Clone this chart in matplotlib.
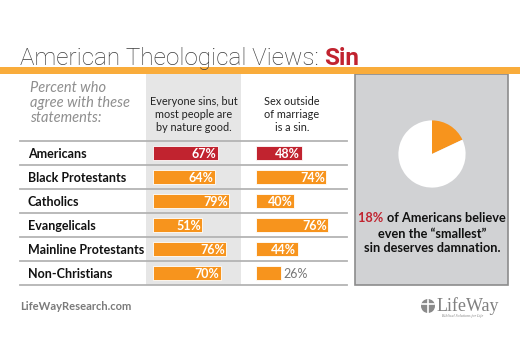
import matplotlib.pyplot as plt
from matplotlib.patches import Rectangle, Circle

# data
groups = ["Americans", "Black Protestants", "Catholics", "Evangelicals",
          "Mainline Protestants", "Non-Christians"]
good_by_nature = [67, 64, 79, 51, 76, 70]
sex_outside_marriage = [48, 74, 40, 76, 44, 26]
pie_share = [18, 82]
col_headers = ["Everyone sins, but\nmost people are\nby nature good.",
               "Sex outside\nof marriage\nis a sin."]

RED = "#C1232F"
ORANGE = "#F7941D"
TITLE_ORANGE = "#F9AC3B"
FONT = "Lato"

W, H = 520, 350
fig = plt.figure(figsize=(W / 100, H / 100), dpi=100)

# background axes in pixel coordinates
bg = fig.add_axes([0, 0, 1, 1])
bg.set_xlim(0, W)
bg.set_ylim(H, 0)
bg.axis("off")


def text_width(t):
    fig.canvas.draw()
    bb = t.get_window_extent().transformed(bg.transData.inverted())
    return bb.x1 - bb.x0


# table geometry (pixels)
top, bottom = 141, 285
row_h = (bottom - top) / len(groups)

bg.add_patch(Rectangle((146, 74), 95, bottom - 74, color="#E6E6E6", lw=0, zorder=0))
bg.add_patch(Rectangle((355, 74), 153, bottom - 74, facecolor="#D1D2D4",
                       edgecolor="#8C8C8C", lw=1.2, zorder=0))
bg.add_patch(Rectangle((0, 67), W, 7, color=TITLE_ORANGE, lw=0, zorder=2))

t = bg.text(20, 65, "American Theological Views: ", fontsize=17.5, family="Roboto",
            weight="light", color="#3C3C3C", va="baseline")
bg.text(20 + text_width(t), 65, "Sin", fontsize=17.5, family="Roboto",
        weight="bold", color=RED, va="baseline")

bg.text(30, 81, "Percent who\nagree with these\nstatements:", fontsize=10.5,
        family=FONT, style="italic", color="#8E8E8E", va="top", linespacing=1.1)
for cx, hdr in zip([193.5, 292], col_headers):
    bg.text(cx, 96, hdr, fontsize=7.8, family=FONT, color="#222222",
            ha="center", va="top", linespacing=1.2)

for i in range(len(groups) + 1):
    y = top + i * row_h
    bg.plot([20, 347], [y, y], color="#B4B4B4", lw=1.3, zorder=3)
for i, g in enumerate(groups):
    bg.text(28, top + (i + 0.5) * row_h + 1, g, fontsize=9, family=FONT,
            weight="bold", color="#111111", va="center")


def bar_column(x0, px_per_100, values):
    ax = fig.add_axes([x0 / W, (H - bottom) / H, px_per_100 / W, (bottom - top) / H])
    ax.set_xlim(0, 100)
    ax.set_ylim(len(values) - 0.5, -0.5)
    ax.axis("off")
    colors = [RED] + [ORANGE] * (len(values) - 1)
    ax.barh(range(len(values)), values, height=0.58, color=colors,
            edgecolor="white", lw=0.6)
    for i, v in enumerate(values):
        if v < 30:
            ax.text(v + 3, i + 0.04, f"{v}%", fontsize=9, family=FONT,
                    color="#777777", va="center")
        else:
            ax.text(v - 1.5, i + 0.04, f"{v}%", fontsize=9, family=FONT,
                    weight="bold", color="white", ha="right", va="center")
    return ax


bar_column(153, 96.5, good_by_nature)
bar_column(256, 95, sex_outside_marriage)

# pie
r = 42
pax = fig.add_axes([(432 - r) / W, (H - 154 - r) / H, 2 * r / W, 2 * r / H])
pax.pie(pie_share, colors=[ORANGE, "white"], startangle=90, counterclock=False,
        wedgeprops=dict(lw=0))
pax.set_aspect("equal")

t1 = bg.text(0, 218, "18% ", fontsize=9.2, family=FONT, weight="bold",
             color=RED, va="center")
t2 = bg.text(0, 218, "of Americans believe", fontsize=9.2, family=FONT,
             weight="bold", color="#111111", va="center")
w1, w2 = text_width(t1), text_width(t2)
x_start = 432 - (w1 + w2) / 2
t1.set_x(x_start)
t2.set_x(x_start + w1)
bg.text(432, 241, "even the \u201csmallest\u201d\nsin deserves damnation.",
        fontsize=9.2, family=FONT, weight="bold", color="#111111",
        ha="center", va="center", linespacing=1.25)

# footer
bg.text(20, 307, "LifeWayResearch.com", fontsize=8, family=FONT,
        weight="bold", color="#7A7A7A", va="center")
bg.add_patch(Circle((428, 306), 7, color="#8A8A8A", lw=0))
bg.plot([428, 428], [300, 313], color="white", lw=1.2)
bg.plot([422, 434], [304, 304], color="white", lw=1.2)
bg.text(437, 306, "LifeWay", fontsize=13, family="Liberation Serif",
        color="#808080", va="center")
bg.text(442, 316, "Biblical Solutions for Life", fontsize=2.8,
        family="Liberation Serif", style="italic", color="#808080", va="center")

fig.savefig("out.png", dpi=100)
